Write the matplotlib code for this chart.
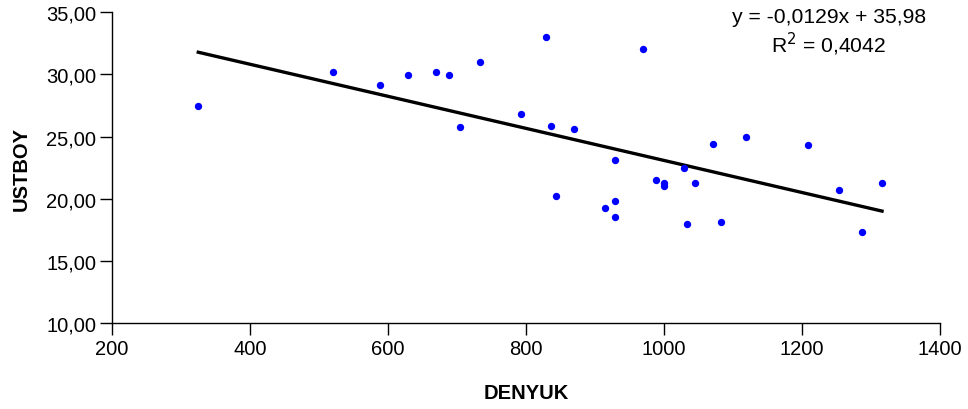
import numpy as np
import matplotlib
matplotlib.use('Agg')
import matplotlib.pyplot as plt

plt.rcParams['font.family'] = ['Liberation Sans', 'DejaVu Sans']

denyuk = [325, 520, 588, 629, 670, 689, 734, 705, 793, 829, 836, 843, 869,
          929, 969, 988, 1000, 1000, 1029, 1045, 1071, 1119, 1209, 1254, 1316,
          914, 929, 929, 1033, 1083, 1287]
ustboy = [27.46, 30.22, 29.18, 29.96, 30.22, 29.96, 31.03, 25.75, 26.79, 32.99,
          25.88, 20.22, 25.61, 23.12, 32.07, 21.53, 21.24, 21.00, 22.45, 21.27,
          24.43, 24.97, 24.30, 20.73, 21.27, 19.28, 19.82, 18.51, 17.97, 18.11,
          17.30]

slope = -0.0129
intercept = 35.98
r2 = 0.4042

x_ticks = [200, 400, 600, 800, 1000, 1200, 1400]
y_ticks = [10, 15, 20, 25, 30, 35]

fig = plt.figure(figsize=(9.68, 4.10), dpi=100)
ax = fig.add_axes([112 / 968, 1 - 324 / 410, (940 - 112) / 968, (324 - 13.3) / 410])

ax.scatter(denyuk, ustboy, s=28, color='#0000FF', zorder=3, linewidths=0)

xl = np.array([min(denyuk), max(denyuk)])
ax.plot(xl, slope * xl + intercept, color='black', linewidth=2.4, zorder=2)

ax.set_xlim(200, 1400)
ax.set_ylim(10, 35)
ax.set_xticks(x_ticks)
ax.set_yticks(y_ticks)
ax.set_xticklabels([str(v) for v in x_ticks])
ax.set_yticklabels([f"{v:.2f}".replace('.', ',') for v in y_ticks])

ax.spines['top'].set_visible(False)
ax.spines['right'].set_visible(False)
for s in ['left', 'bottom']:
    ax.spines[s].set_linewidth(1.0)
ax.tick_params(direction='out', length=8.5, width=1.0, labelsize=14.5, pad=3)

ax.set_xlabel('DENYUK', fontsize=14.5, fontweight='bold', labelpad=18)
ax.set_ylabel('USTBOY', fontsize=14.5, fontweight='bold', labelpad=11)

eq = f"y = {slope:.4f}x + {intercept:.2f}".replace('.', ',')
ax.text(1239, 34.25, eq, fontsize=15.2, ha='center', va='baseline')
ax.text(1239, 31.85, f"R$^2$ = {r2:.4f}".replace('.', ','), fontsize=15.2,
        ha='center', va='baseline')

fig.savefig('out.png', dpi=100)
